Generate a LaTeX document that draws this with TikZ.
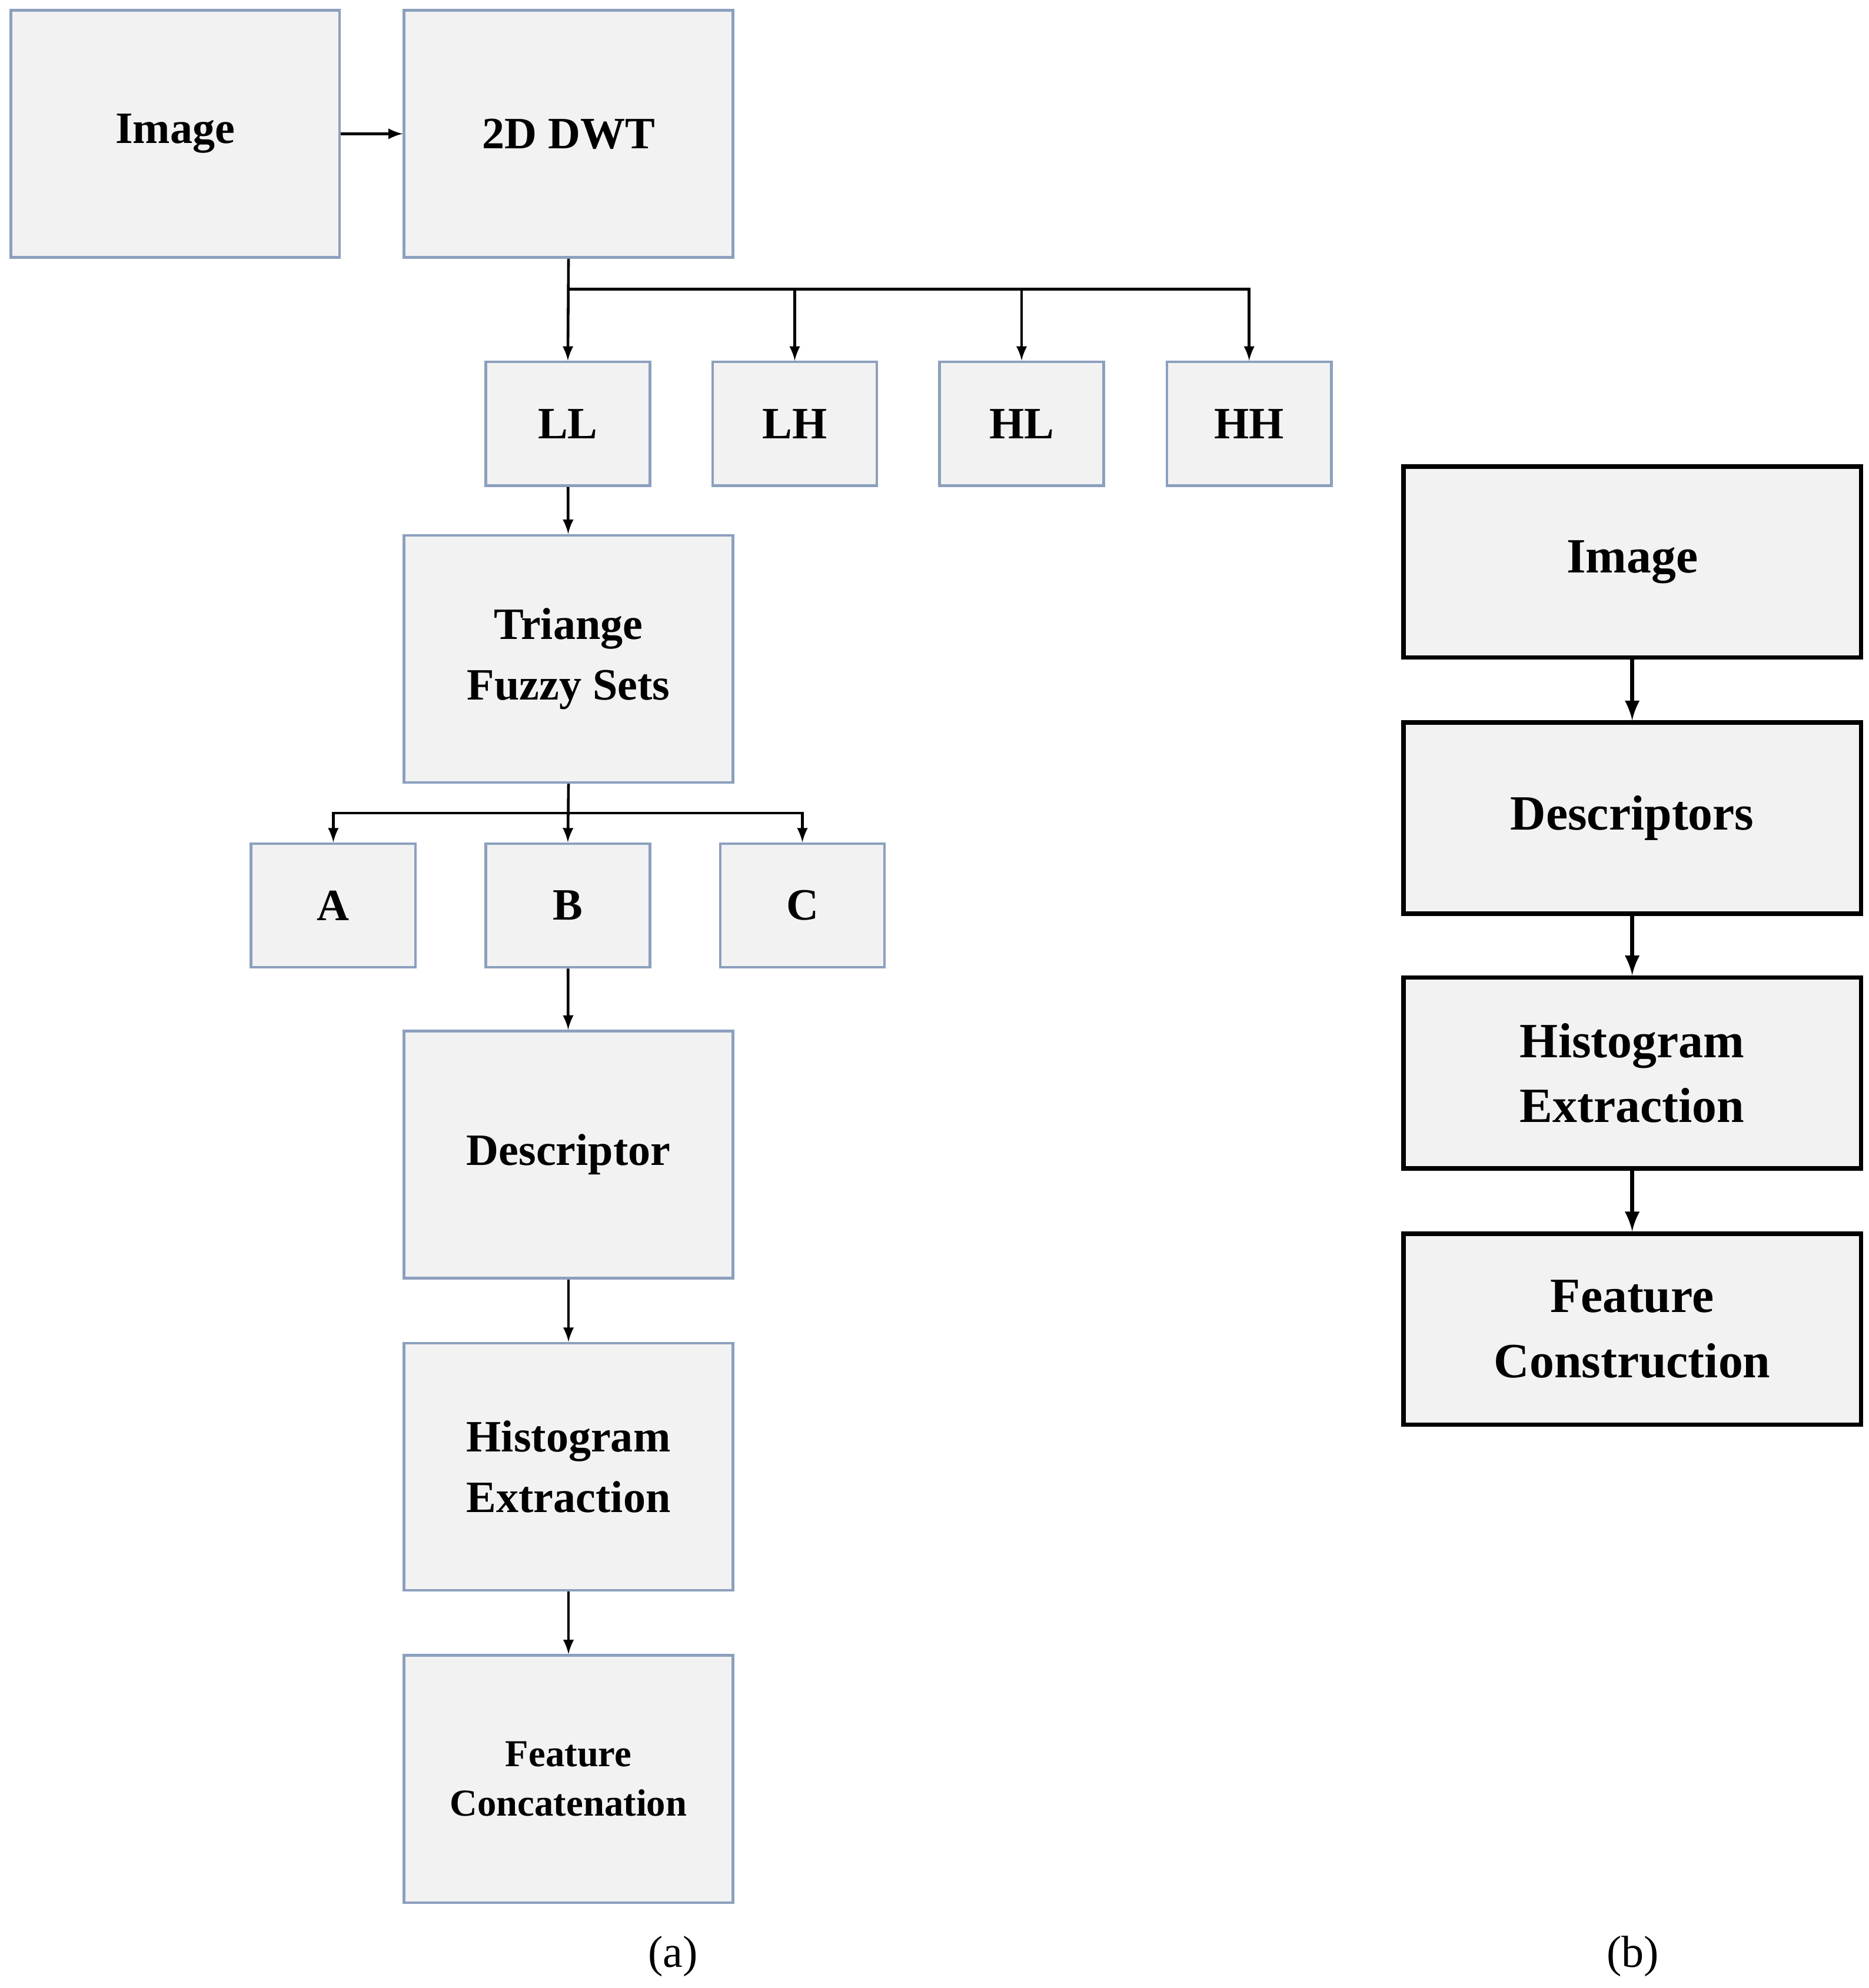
\documentclass[tikz,border=0pt]{standalone}
\usepackage{fontspec}
\setmainfont{Liberation Serif}
\begin{document}
\begin{tikzpicture}[x=0.02cm,y=-0.02cm,
 bx/.style={draw=bordc,fill=fillc,line width=1.2pt,inner sep=0pt,align=center,font=\bfseries\fontsize{20}{27}\selectfont},
 bb/.style={draw=black,fill=fillc,line width=2pt,inner sep=0pt,align=center,minimum width=7.18cm,minimum height=3cm,font=\bfseries\fontsize{22}{29}\selectfont},
 ar/.style={-latex,line width=1.2pt},
 ab/.style={-latex,line width=2pt}]
\definecolor{bordc}{RGB}{140,160,190}
\definecolor{fillc}{RGB}{242,242,242}
\useasboundingbox (0,0) rectangle (1466,1560);
\tikzset{big/.style={bx,minimum width=5.16cm,minimum height=3.88cm},sm/.style={bx,minimum width=2.58cm,minimum height=1.94cm}}
\node[big] (img) at (137.5,105) {Image};
\node[big] (dwt) at (446,105) {2D DWT};
\node[sm] (ll) at (445.5,332.5) {LL};
\node[sm] (lh) at (623.5,332.5) {LH};
\node[sm] (hl) at (801.5,332.5) {HL};
\node[sm] (hh) at (980,332.5) {HH};
\node[big] (tri) at (446,517) {Triange\\Fuzzy Sets};
\node[sm] (a) at (261.5,710.5) {A};
\node[sm] (b) at (445.5,710.5) {B};
\node[sm] (c) at (629.5,710.5) {C};
\node[big] (des) at (446,906) {Descriptor};
\node[big] (his) at (446,1151) {Histogram\\Extraction};
\node[big,font=\bfseries\fontsize{17}{22}\selectfont] (fc) at (446,1396) {Feature\\Concatenation};
\draw[ar] (img) -- (dwt);
\coordinate (j1) at (446,227);
\draw[ar] (dwt.south) -- (ll.north);
\draw[ar] (j1) -| (lh.north);
\draw[ar] (j1) -| (hl.north);
\draw[ar] (j1) -| (hh.north);
\draw[ar] (ll) -- (tri);
\coordinate (j2) at (446,638);
\draw[ar] (tri.south) -- (b.north);
\draw[ar] (j2) -| (a.north);
\draw[ar] (j2) -| (c.north);
\draw[ar] (b) -- (des);
\draw[ar] (des) -- (his);
\draw[ar] (his) -- (fc);
\node[bb] (r1) at (1280.5,441) {Image};
\node[bb] (r2) at (1280.5,642) {Descriptors};
\node[bb] (r3) at (1280.5,842) {Histogram\\Extraction};
\node[bb] (r4) at (1280.5,1043) {Feature\\Construction};
\draw[ab] (r1) -- (r2);
\draw[ab] (r2) -- (r3);
\draw[ab] (r3) -- (r4);
\node[font=\fontsize{20}{24}\selectfont] (la) at (528,1535) {(a)};
\node[font=\fontsize{20}{24}\selectfont] (lb) at (1281,1535) {(b)};
\end{tikzpicture}
\end{document}
